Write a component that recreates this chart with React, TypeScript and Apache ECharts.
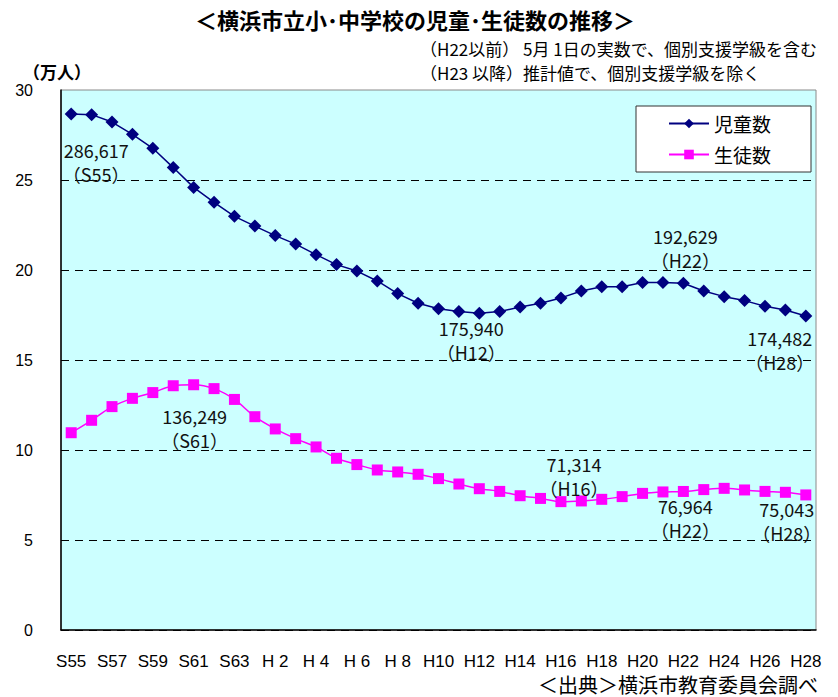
import React, { useEffect, useRef } from "react";
import * as echarts from "echarts";

const categories = [
  "S55", "S56", "S57", "S58", "S59", "S60", "S61", "S62", "S63",
  "H 1", "H 2", "H 3", "H 4", "H 5", "H 6", "H 7", "H 8", "H 9",
  "H10", "H11", "H12", "H13", "H14", "H15", "H16", "H17", "H18", "H19",
  "H20", "H21", "H22", "H23", "H24", "H25", "H26", "H27", "H28",
];

// 児童数 (万人)
const jidoValues = [
  28.6617, 28.63, 28.22, 27.54, 26.76, 25.69, 24.59, 23.76, 22.98,
  22.44, 21.91, 21.44, 20.85, 20.30, 19.94, 19.39, 18.69, 18.15,
  17.85, 17.69, 17.594, 17.69, 17.94, 18.15, 18.45, 18.83, 19.07, 19.07,
  19.30, 19.30, 19.2629, 18.83, 18.52, 18.30, 17.98, 17.78, 17.4482,
];

// 生徒数 (万人)
const seitoValues = [
  10.96, 11.65, 12.41, 12.87, 13.19, 13.57, 13.6249, 13.41, 12.81,
  11.85, 11.17, 10.63, 10.17, 9.54, 9.19, 8.89, 8.78, 8.65,
  8.41, 8.11, 7.85, 7.70, 7.46, 7.31, 7.1314, 7.17, 7.26, 7.41,
  7.59, 7.67, 7.6964, 7.80, 7.87, 7.78, 7.70, 7.65, 7.5043,
];

const jidoNotes = [
  { index: 0, text: "286,617\n（S55）", offset: [25, 48] },
  { index: 20, text: "175,940\n（H12）", offset: [-8, 27] },
  { index: 30, text: "192,629\n（H22）", offset: [2, -35] },
  { index: 36, text: "174,482\n（H28）", offset: [-26, 34] },
];

const seitoNotes = [
  { index: 6, text: "136,249\n（S61）", offset: [1, 43] },
  { index: 24, text: "71,314\n（H16）", offset: [13, -26] },
  { index: 30, text: "76,964\n（H22）", offset: [2, 27] },
  { index: 36, text: "75,043\n（H28）", offset: [-19, 26] },
];

const yTicks = { min: 0, max: 30, interval: 5 };

const CJK = '"Noto Sans CJK JP", "Noto Sans", sans-serif';
const LAT = '"Liberation Sans", Arial, sans-serif';

function buildData(values: number[], notes: { index: number; text: string; offset: number[] }[]) {
  return values.map((v, i) => {
    const n = notes.find((x) => x.index === i);
    if (!n) return v;
    return {
      value: v,
      label: {
        show: true,
        position: "inside",
        align: "center",
        verticalAlign: "middle",
        offset: n.offset,
        formatter: n.text,
        fontSize: 18,
        lineHeight: 24,
        color: "#111",
        fontFamily: CJK,
      },
    };
  });
}

export default function App() {
  const ref = useRef<HTMLDivElement>(null);
  useEffect(() => {
    document.body.style.margin = "0";
    if (!ref.current) return;
    const chart = echarts.init(ref.current, undefined, { renderer: "svg" });
    chart.setOption({
      animation: false,
      backgroundColor: "#ffffff",
      grid: {
        left: 61,
        right: 22,
        top: 90,
        bottom: 67,
        show: true,
        backgroundColor: "#ccffff",
        borderColor: "#8a8a8a",
        borderWidth: 1,
      },
      legend: {
        orient: "vertical",
        left: 636,
        top: 106,
        backgroundColor: "#ffffff",
        borderColor: "#333",
        borderWidth: 1,
        borderRadius: 0,
        padding: [8, 40, 8, 32],
        itemGap: 12,
        itemWidth: 40,
        itemHeight: 12,
        textStyle: { fontSize: 19, fontFamily: CJK, color: "#000" },
        data: ["児童数", "生徒数"],
      },
      xAxis: {
        type: "category",
        data: categories,
        boundaryGap: true,
        axisLine: { lineStyle: { color: "#000", width: 1.5 } },
        axisTick: { inside: true, length: 6, interval: 0, lineStyle: { color: "#000" } },
        axisLabel: {
          interval: 1,
          margin: 23,
          fontSize: 17,
          fontFamily: LAT,
          color: "#000",
        },
        splitLine: { show: false },
      },
      yAxis: {
        type: "value",
        min: yTicks.min,
        max: yTicks.max,
        interval: yTicks.interval,
        axisLine: { show: true, lineStyle: { color: "#000", width: 1.5 } },
        axisTick: { show: false },
        axisLabel: { fontSize: 16, fontFamily: LAT, color: "#000", margin: 28 },
        splitLine: {
          show: true,
          lineStyle: {
            type: [8, 6],
            width: 1,
            color: ["#000", "#000", "#000", "#000", "#000", "#000", "rgba(0,0,0,0)"],
          },
        },
      },
      series: [
        {
          name: "児童数",
          type: "line",
          data: buildData(jidoValues, jidoNotes),
          symbol: "diamond",
          symbolSize: 13,
          lineStyle: { color: "#000080", width: 1.5 },
          itemStyle: { color: "#000080" },
          z: 3,
        },
        {
          name: "生徒数",
          type: "line",
          data: buildData(seitoValues, seitoNotes),
          symbol: "rect",
          symbolSize: 11,
          smooth: 0.3,
          lineStyle: { color: "#ff00ff", width: 1.5 },
          itemStyle: { color: "#ff00ff" },
          z: 3,
        },
      ],
      graphic: [
        {
          type: "text",
          x: 415,
          y: 19,
          style: {
            text: "＜横浜市立小･中学校の児童･生徒数の推移＞",
            fontSize: 22,
            fontWeight: "bold",
            fontFamily: CJK,
            fill: "#000",
            textAlign: "center",
            textVerticalAlign: "middle",
          },
        },
        {
          type: "text",
          x: 420,
          y: 48,
          style: {
            text: "（H22以前） 5月 1日の実数で、個別支援学級を含む",
            fontSize: 17,
            fontFamily: CJK,
            fill: "#000",
            textAlign: "left",
            textVerticalAlign: "middle",
          },
        },
        {
          type: "text",
          x: 420,
          y: 72,
          style: {
            text: "（H23 以降）推計値で、個別支援学級を除く",
            fontSize: 17,
            fontFamily: CJK,
            fill: "#000",
            textAlign: "left",
            textVerticalAlign: "middle",
          },
        },
        {
          type: "text",
          x: 57,
          y: 71,
          style: {
            text: "（万人）",
            fontSize: 17,
            fontWeight: "bold",
            fontFamily: CJK,
            fill: "#000",
            textAlign: "center",
            textVerticalAlign: "middle",
          },
        },
        {
          type: "text",
          x: 818,
          y: 684,
          style: {
            text: "＜出典＞横浜市教育委員会調べ",
            fontSize: 20,
            fontFamily: CJK,
            fill: "#000",
            textAlign: "right",
            textVerticalAlign: "middle",
          },
        },
      ],
    });
    return () => chart.dispose();
  }, []);
  return <div ref={ref} style={{ width: 838, height: 697 }} />;
}
